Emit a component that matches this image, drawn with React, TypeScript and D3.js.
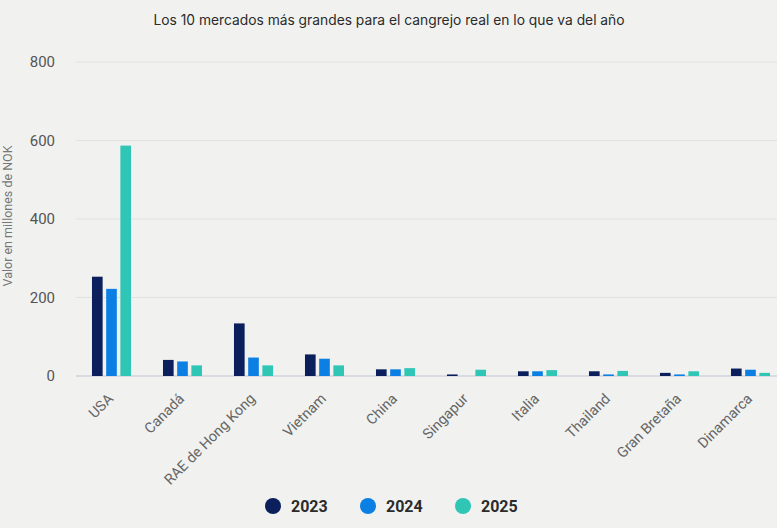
import React, { useEffect, useRef } from "react";
import * as d3 from "d3";

const WIDTH = 777;
const HEIGHT = 528;
const MARGIN = { top: 62, right: -9, bottom: 152, left: 76 };

const TITLE = "Los 10 mercados más grandes para el cangrejo real en lo que va del año";
const Y_LABEL = "Valor en millones de NOK";

const markets = [
  "USA",
  "Canadá",
  "RAE de Hong Kong",
  "Vietnam",
  "China",
  "Singapur",
  "Italia",
  "Thailand",
  "Gran Bretaña",
  "Dinamarca",
];
const years = ["2023", "2024", "2025"];
const values2023 = [253, 41, 134, 55, 17, 4, 12, 12, 8, 19];
const values2024 = [222, 37, 47, 44, 17, 0, 12, 4, 4, 16];
const values2025 = [587, 27, 27, 27, 20, 16, 15, 13, 12, 8];
const yTicks = [0, 200, 400, 600, 800];
const colors = ["#0b1f5c", "#0b7fe4", "#2fc6b6"];

const series = [values2023, values2024, values2025];

export default function App() {
  const ref = useRef<SVGSVGElement>(null);

  useEffect(() => {
    const svg = d3.select(ref.current);
    svg.selectAll("*").remove();

    const innerW = WIDTH - MARGIN.left - MARGIN.right;
    const innerH = HEIGHT - MARGIN.top - MARGIN.bottom;

    svg
      .append("rect")
      .attr("width", WIDTH)
      .attr("height", HEIGHT)
      .attr("fill", "#f1f2f0");

    // title
    svg
      .append("text")
      .attr("x", 389)
      .attr("y", 25)
      .attr("text-anchor", "middle")
      .attr("font-family", "Inter, Roboto, sans-serif")
      .attr("font-size", "13.8px")
      .attr("fill", "#2b2b2b")
      .text(TITLE);

    const g = svg
      .append("g")
      .attr("transform", `translate(${MARGIN.left},${MARGIN.top})`);

    const x0 = d3
      .scaleBand()
      .domain(markets)
      .range([0, innerW])
      .paddingInner(0.45)
      .paddingOuter(0.225);
    const x1 = d3
      .scaleBand()
      .domain(years)
      .range([0, x0.bandwidth()])
      .paddingInner(0.25);
    const y = d3.scaleLinear().domain([0, 800]).range([innerH, 0]);

    // grid
    g.selectAll(".grid")
      .data(yTicks)
      .join("line")
      .attr("x1", 0)
      .attr("x2", WIDTH)
      .attr("y1", (d) => y(d))
      .attr("y2", (d) => y(d))
      .attr("stroke", (d) => (d === 0 ? "#cfd3da" : "#e0e2e2"))
      .attr("stroke-width", (d) => (d === 0 ? 1.5 : 1));

    // y tick labels
    g.selectAll(".ytick")
      .data(yTicks)
      .join("text")
      .attr("x", -21)
      .attr("y", (d) => y(d))
      .attr("dy", "0.35em")
      .attr("text-anchor", "end")
      .attr("font-family", "Roboto, sans-serif")
      .attr("font-size", "15px")
      .attr("fill", "#555")
      .text((d) => d);

    // y label
    svg
      .append("text")
      .attr("transform", `translate(12,${216}) rotate(-90)`)
      .attr("text-anchor", "middle")
      .attr("font-family", "Roboto, sans-serif")
      .attr("font-size", "12.5px")
      .attr("fill", "#777")
      .text(Y_LABEL);

    // bars
    const groups = g
      .selectAll(".grp")
      .data(markets)
      .join("g")
      .attr("transform", (d) => `translate(${x0(d)},0)`);

    groups
      .selectAll("rect")
      .data((_, i) => years.map((yr, k) => ({ yr, v: series[k][i], k })))
      .join("rect")
      .attr("x", (d) => x1(d.yr) as number)
      .attr("width", x1.bandwidth())
      .attr("y", (d) => y(d.v))
      .attr("height", (d) => innerH - y(d.v))
      .attr("fill", (d) => colors[d.k]);

    // x labels
    g.selectAll(".xlabel")
      .data(markets)
      .join("text")
      .attr(
        "transform",
        (d) =>
          `translate(${(x0(d) as number) + x0.bandwidth() / 2 - 1},${innerH + 20}) rotate(-45)`
      )
      .attr("text-anchor", "end")
      .attr("dy", "0.35em")
      .attr("font-family", "Roboto, sans-serif")
      .attr("font-size", "14.5px")
      .attr("fill", "#666")
      .text((d) => d);

    // legend
    const legendX = [273, 368, 463];
    const legend = svg
      .selectAll(".legend")
      .data(years)
      .join("g")
      .attr("transform", (_, i) => `translate(${legendX[i]},506)`);
    legend
      .append("circle")
      .attr("r", 8)
      .attr("fill", (_, i) => colors[i]);
    legend
      .append("text")
      .attr("x", 18)
      .attr("dy", "0.36em")
      .attr("font-family", "Roboto, sans-serif")
      .attr("font-weight", "bold")
      .attr("font-size", "16px")
      .attr("fill", "#2b2b2b")
      .text((d) => d);
  }, []);

  return (
    <svg
      ref={ref}
      width={WIDTH}
      height={HEIGHT}
      style={{ position: "absolute", top: 0, left: 0, display: "block" }}
    />
  );
}
